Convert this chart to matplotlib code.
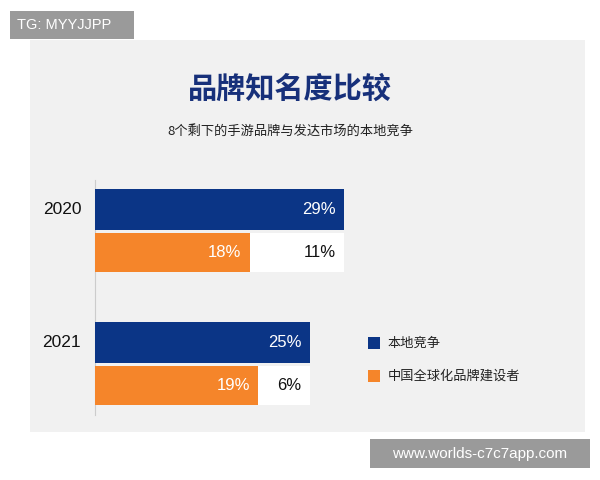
import matplotlib
matplotlib.use("Agg")
import matplotlib.pyplot as plt
from matplotlib.patches import Rectangle

plt.rcParams['font.family'] = ['Noto Sans CJK SC', 'DejaVu Sans']

years = ["2020", "2021"]
local = [29, 25]
global_builder = [18, 19]
gap = [11, 6]
series_names = ["本地竞争", "中国全球化品牌建设者"]
title = "品牌知名度比较"
subtitle = "8个剩下的手游品牌与发达市场的本地竞争"

BLUE = "#0b3586"
ORANGE = "#f5852a"
NAVY = "#17307a"

W, H = 600, 480
fig = plt.figure(figsize=(6, 4.8), dpi=100)
fig.patch.set_facecolor("white")
# panel
fig.patches.append(Rectangle((30 / W, 1 - 432 / H), 555 / W, 392 / H, transform=fig.transFigure,
                             facecolor="#f1f1f1", edgecolor="none", zorder=-5))
# watermarks
fig.patches.append(Rectangle((10 / W, 1 - 39 / H), 124 / W, 28 / H, transform=fig.transFigure,
                             facecolor="#9a9a9a", edgecolor="none", zorder=1))
fig.text(17 / W, 1 - 25 / H, "TG: MYYJJPP", color="white", fontsize=10.5, va="center",
         family="Liberation Sans", zorder=2)
fig.patches.append(Rectangle((370 / W, 1 - 468 / H), 220 / W, 29 / H, transform=fig.transFigure,
                             facecolor="#9a9a9a", edgecolor="none", zorder=1))
fig.text(480 / W, 1 - 454 / H, "www.worlds-c7c7app.com", color="white", fontsize=11,
         va="center", ha="center", family="Liberation Sans", zorder=2)

fig.text(290 / W, 1 - 89 / H, title, ha="center", va="center", fontsize=21, fontweight="bold", color=NAVY)
fig.text(290 / W, 1 - 131 / H, subtitle, ha="center", va="center", fontsize=9.5, color="#222222")

ax = fig.add_axes([95 / W, 1 - 415 / H, 345 / W, 235 / H], zorder=5)
ax.set_facecolor("none")
ax.set_xlim(0, 345 / 8.6)
ax.set_ylim(415, 180)
for s in ["top", "right", "bottom"]:
    ax.spines[s].set_visible(False)
ax.spines["left"].set_color("#cccccc")
ax.set_xticks([])
ax.set_yticks([])

for i, y in enumerate(years):
    base = 209.5 + i * 133
    ax.barh(base, local[i], height=41, color=BLUE, zorder=3)
    ax.barh(base + 43, global_builder[i], height=39, color=ORANGE, zorder=3)
    ax.barh(base + 43, gap[i], left=global_builder[i], height=39, color="white", zorder=3)
    ax.text(local[i] - 1, base, f"{local[i]}%", color="white", ha="right", va="center", fontsize=12,
            family="Liberation Sans", zorder=4)
    ax.text(global_builder[i] - 1, base + 43, f"{global_builder[i]}%", color="white", ha="right",
            va="center", fontsize=12, family="Liberation Sans", zorder=4)
    ax.text(local[i] - 1, base + 43, f"{gap[i]}%", color="#111111", ha="right", va="center",
            fontsize=12, family="Liberation Sans", zorder=4)
    ax.text(-1.6, base, y, ha="right", va="center", fontsize=12.5, color="#111111",
            family="Liberation Sans")

# legend
for j, (name, c) in enumerate(zip(series_names, [BLUE, ORANGE])):
    yy = 343 + j * 33
    fig.patches.append(Rectangle((368 / W, 1 - (yy + 6) / H), 12 / W, 12 / H, transform=fig.transFigure,
                                 facecolor=c, edgecolor="none"))
    fig.text(388 / W, 1 - yy / H, name, va="center", fontsize=9.5, color="#222222")

fig.savefig("out.png", dpi=100)
